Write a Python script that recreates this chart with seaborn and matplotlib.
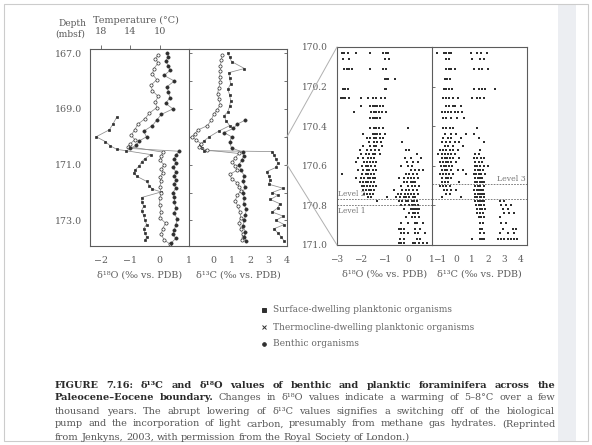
import pandas as pd
import matplotlib
matplotlib.use("Agg")
import matplotlib.pyplot as plt
import seaborn as sns
from matplotlib.patches import ConnectionPatch, Rectangle
from matplotlib.lines import Line2D

# ---------------- data ----------------
# left panel, delta18O profiles (depth in mbsf, value in permil)
o18_surf_depth = [169.30, 169.55, 169.75, 170.00, 170.17, 170.32, 170.45, 170.50,
                  170.64, 170.78, 170.90, 171.05, 171.20, 171.30, 171.42, 171.60,
                  171.75, 171.88, 171.98, 172.18, 172.35, 172.50, 172.65, 172.82,
                  173.00, 173.15, 173.30, 173.45, 173.60, 173.72]
o18_surf = [-1.47, -1.60, -1.72, -2.17, -1.86, -1.69, -1.47, -1.15,
            -0.30, -0.50, -0.62, -0.70, -0.85, -0.88, -0.78, -0.45,
            -0.35, -0.25, 0.05, -0.62, -0.60, -0.55, -0.62, -0.55,
            -0.50, -0.45, -0.55, -0.50, -0.45, -0.50]

o18_thermo_depth = [167.05, 167.20, 167.35, 167.55, 167.75, 167.95, 168.15, 168.35,
                    168.55, 168.75, 168.95, 169.15, 169.35, 169.55, 169.75, 169.95,
                    170.10, 170.25, 170.35, 170.55, 170.70, 170.85, 171.00, 171.15,
                    171.30, 171.45, 171.60, 171.80, 172.00, 172.20, 172.45, 172.70,
                    172.90, 173.10, 173.30, 173.50, 173.70, 173.85]
o18_thermo = [-0.05, -0.15, -0.05, -0.20, -0.25, -0.10, -0.30, -0.25,
              -0.05, -0.15, -0.10, -0.35, -0.50, -0.75, -0.85, -0.98,
              -0.85, -1.00, -1.08, 0.10, 0.05, 0.00, 0.15, 0.05,
              0.10, 0.00, 0.05, 0.00, 0.05, 0.00, 0.00, 0.05,
              0.00, 0.20, 0.10, 0.05, 0.15, 0.35]

o18_benth_depth = [166.98, 167.12, 167.28, 167.45, 167.62, 167.80, 168.00, 168.20,
                   168.40, 168.60, 168.80, 169.00, 169.20, 169.40, 169.60, 169.80,
                   170.00, 170.15, 170.30, 170.42, 170.52, 170.65, 170.80, 170.95,
                   171.10, 171.25, 171.40, 171.55, 171.70, 171.85, 172.00, 172.15,
                   172.35, 172.55, 172.75, 172.95, 173.15, 173.35, 173.50, 173.65,
                   173.80]
o18_benth = [0.25, 0.30, 0.20, 0.30, 0.35, 0.15, 0.50, 0.25,
             0.30, 0.35, 0.20, 0.45, 0.05, -0.10, -0.25, -0.55,
             -0.45, -0.70, -0.80, -1.00, 0.67, 0.55, 0.50, 0.55,
             0.45, 0.55, 0.50, 0.55, 0.50, 0.55, 0.45, 0.50,
             0.50, 0.55, 0.50, 0.60, 0.55, 0.50, 0.45, 0.55,
             0.40]

# left panel, delta13C profiles
c13_surf_depth = [166.98, 167.15, 167.30, 167.55, 167.70, 167.90, 168.10, 168.30,
                  168.50, 168.70, 168.90, 169.10, 169.25, 169.42, 169.60, 169.80,
                  170.00, 170.15, 170.30, 170.42, 170.50, 170.53, 170.65, 170.80,
                  170.95, 171.10, 171.25, 171.40, 171.55, 171.70, 171.85, 172.00,
                  172.10, 172.25, 172.40, 172.55, 172.70, 172.85, 173.00, 173.15,
                  173.30, 173.45, 173.60, 173.75]
c13_surf = [0.80, 0.90, 1.00, 1.70, 0.85, 0.90, 0.95, 0.80,
            0.90, 0.95, 0.90, 0.80, 0.60, 0.70, 0.90, 0.30,
            -0.20, -0.50, -0.70, -0.60, -0.50, 3.20, 3.30, 3.40,
            3.50, 3.40, 2.90, 3.00, 3.10, 3.00, 3.80, 3.20,
            3.50, 3.10, 3.60, 3.50, 3.20, 3.80, 3.40, 3.85,
            3.30, 3.50, 3.70, 3.85]

c13_thermo_depth = [167.05, 167.25, 167.45, 167.65, 167.85, 168.05, 168.25, 168.45,
                    168.65, 168.85, 169.05, 169.20, 169.40, 169.60, 169.75, 169.90,
                    170.00, 170.12, 170.25, 170.38, 170.48, 170.60, 170.75, 170.90,
                    171.05, 171.20, 171.35, 171.50, 171.65, 171.80, 171.95, 172.10,
                    172.30, 172.50, 172.70, 172.90, 173.10, 173.30, 173.50, 173.70]
c13_thermo = [0.50, 0.45, 0.40, 0.40, 0.35, 0.40, 0.30, 0.25,
              0.30, 0.40, 0.20, 0.03, -0.10, -0.30, -0.80, -1.00,
              -1.13, -0.90, -0.65, -0.75, -0.30, 1.40, 1.20, 1.05,
              1.20, 1.30, 0.90, 1.00, 1.30, 1.40, 1.50, 1.30,
              1.20, 1.35, 1.45, 1.50, 1.40, 1.50, 1.60, 1.55]

c13_benth_depth = [169.40, 169.55, 169.70, 169.85, 170.00, 170.20, 170.40, 170.55,
                   170.70, 170.85, 171.00, 171.20, 171.40, 171.60, 171.80, 172.00,
                   172.20, 172.40, 172.60, 172.80, 173.00, 173.20, 173.40, 173.60,
                   173.75]
c13_benth = [1.75, 1.30, 1.10, 0.60, 1.00, 0.90, 1.00, 1.60,
             1.65, 1.55, 1.40, 1.50, 1.70, 1.60, 1.75, 1.60,
             1.70, 1.65, 1.80, 1.75, 1.70, 1.60, 1.75, 1.70,
             1.80]

# right panel (high-resolution interval), samples grouped by depth
hr_depth = [170.03, 170.06, 170.11, 170.16, 170.21, 170.26, 170.30, 170.33,
            170.36, 170.41, 170.44, 170.46, 170.48, 170.50, 170.52, 170.54,
            170.56, 170.58, 170.60, 170.62, 170.64, 170.66, 170.68, 170.70,
            170.72, 170.74, 170.76, 170.78, 170.80, 170.82, 170.84, 170.86,
            170.89, 170.92, 170.94, 170.97, 170.99]
hr_o18 = [
    [-2.8, -2.7, -2.55, -2.2, -1.6, -1.05, -0.95, -0.85],
    [-2.75, -2.5, -1.0, -0.8],
    [-2.7, -2.6, -2.5, -2.35, -1.6, -1.05, -0.95],
    [-1.0, -0.9, -0.85, -0.55],
    [-2.75, -2.65, -2.55, -1.0, -0.95],
    [-2.85, -2.75, -2.65, -2.5, -2.0, -1.7, -1.5, -1.35, -1.15, -1.0],
    [-2.0, -1.6, -1.5, -1.4, -1.3, -1.2, -1.05],
    [-2.3, -1.55, -1.45, -1.35, -1.25, -1.1, -0.95],
    [-1.6, -1.5, -1.4, -1.3, -1.2],
    [-1.6, -1.45, -1.35, -1.25, -1.05, 0.0],
    [-1.9, -1.5, -1.4, -1.3, -1.2, -1.0],
    [-1.75, -1.6, -1.45, -1.35, -1.2, -1.05],
    [-1.65, -1.45, -1.3, -1.15, -0.25],
    [-1.9, -1.6, -1.45, -1.35, -1.1],
    [-2.05, -1.75, -1.55, -1.4, -1.25, -0.1, 0.05],
    [-2.0, -1.8, -1.65, -1.5, -1.4, -1.2, 0.35],
    [-2.1, -1.9, -1.7, -1.55, -1.45, -0.15, 0.1, 0.55],
    [-2.2, -1.85, -1.75, -1.6, -1.5, -1.35, -0.05, 0.2, 0.4],
    [-1.95, -1.8, -1.7, -1.55, -1.4, -0.3, 0.0, 0.15],
    [-2.1, -1.9, -1.75, -1.65, -1.5, -1.35, 0.1, 0.3, 0.45, 0.6],
    [-2.8, -1.95, -1.8, -1.7, -1.55, -1.45, -0.1, 0.05, 0.2, 0.35],
    [-2.2, -2.0, -1.85, -1.7, -1.6, -1.5, -1.4, -0.4, -0.2, 0.0, 0.1, 0.25, 0.4],
    [-2.05, -1.9, -1.8, -1.7, -1.55, -1.45, -0.2, -0.05, 0.1, 0.2, 0.3],
    [-1.95, -1.85, -1.75, -1.6, -1.5, -1.35, -0.3, 0.0, 0.15, 0.3, 0.45],
    [-1.9, -1.8, -1.65, -1.55, -1.45, -0.6, -0.25, -0.1, 0.05, 0.2, 0.35],
    [-1.85, -1.75, -1.6, -1.5, -0.45, -0.3, -0.15, 0.0, 0.1, 0.25, 0.4],
    [-1.7, -1.55, -0.9, -0.5, -0.35, -0.2, -0.1, 0.05, 0.2, 0.3],
    [-1.3, -0.4, -0.25, -0.1, 0.0, 0.15, 0.25, 0.35],
    [-0.3, -0.15, 0.05, 0.15, 0.25, 0.3, 0.4],
    [-0.2, 0.1, 0.2, 0.3, 0.35, 0.45],
    [0.05, 0.2, 0.3, 0.4],
    [-0.1, 0.15, 0.3, 0.45],
    [-0.3, 0.0, 0.3, 0.35, 0.6],
    [-0.4, -0.3, -0.2, 0.3, 0.5],
    [-0.3, -0.2, 0.0, 0.3, 0.4, 0.7],
    [-0.35, -0.2, 0.35, 0.5],
    [-0.4, -0.3, -0.2, 0.2, 0.3, 0.45, 0.6, 0.8],
]
hr_c13 = [
    [-1.2, -0.75, -0.6, -0.45, -0.3, 0.95, 1.3, 1.55, 1.9],
    [-0.6, -0.45, 1.0, 1.5, 1.75],
    [-0.6, -0.45, -0.3, -0.1, 1.1, 1.4, 1.6, 1.95],
    [-0.7, -0.55, -0.4],
    [-0.75, -0.6, -0.45, -0.25, 1.1, 1.4, 1.6, 1.8, 2.4],
    [-0.8, -0.6, -0.45, -0.2, 0.1, 1.0, 1.3, 1.5, 1.7],
    [-0.6, -0.45, -0.2, -0.05, 0.3],
    [-0.9, -0.7, -0.5, -0.3, -0.1, 0.1, 0.35],
    [-0.8, -0.6, -0.3, 0.05, 0.5],
    [-0.8, -0.6, -0.4, -0.2, 1.3],
    [-0.7, -0.35, 0.0, 0.6, 1.1],
    [-0.8, -0.5, -0.3, 0.3, 1.4],
    [-0.9, -0.6, -0.4, -0.1, 0.2, 1.7],
    [-0.7, -0.5, -0.2, 0.4],
    [-1.0, -0.8, -0.6, -0.4, -0.2, 0.1, 1.5],
    [-1.1, -0.9, -0.7, -0.5, -0.3, -0.1, 1.2, 1.4],
    [-0.9, -0.7, -0.55, -0.4, -0.2, 0.2, 1.1, 1.3, 1.55, 1.75],
    [-1.0, -0.8, -0.65, -0.5, -0.3, 0.0, 1.2, 1.4, 1.6],
    [-0.95, -0.75, -0.6, -0.45, -0.25, 1.15, 1.3, 1.5, 1.7, 2.0],
    [-0.9, -0.7, -0.55, -0.35, 0.1, 0.4, 1.2, 1.35, 1.5, 1.65],
    [-1.0, -0.8, -0.6, -0.45, -0.2, 0.6, 1.1, 1.25, 1.4, 1.55, 1.8],
    [-0.85, -0.65, -0.5, -0.3, 1.2, 1.35, 1.5, 1.6],
    [-0.9, -0.7, -0.5, 0.2, 1.15, 1.3, 1.45, 1.6, 1.75],
    [-1.0, -0.8, -0.6, -0.4, 1.2, 1.35, 1.5, 1.7],
    [-0.75, -0.55, -0.3, 0.0, 1.1, 1.3, 1.4, 1.55, 1.65],
    [-0.6, -0.4, 1.2, 1.35, 1.5, 1.6, 1.75],
    [-0.9, 0.3, 1.15, 1.3, 1.45, 1.55, 1.7],
    [1.2, 1.35, 1.5, 1.6, 1.75, 2.7, 3.0],
    [1.25, 1.4, 1.55, 1.7, 2.8, 3.1, 3.4],
    [1.3, 1.45, 1.6, 1.8, 2.9, 3.2],
    [1.3, 1.5, 1.65, 3.0, 3.3, 3.6],
    [1.4, 1.55, 1.7, 2.75],
    [1.5, 1.65, 2.8, 3.1],
    [1.45, 1.6, 2.9, 3.5, 3.7],
    [1.5, 1.7, 2.7, 3.2, 3.6],
    [1.0, 1.45, 1.6, 1.75, 2.6, 2.8, 3.0, 3.2, 3.4, 3.6, 3.8],
]

level_o18 = [170.77, 170.80]
level_c13 = [170.69, 170.77]

temp_ticks = [-2, -1, 0]
temp_labels = ["18", "14", "10"]

legend_labels = ["Surface-dwelling planktonic organisms",
                 "Thermocline-dwelling planktonic organisms",
                 "Benthic organisms"]

# ---------------- style ----------------
sns.set_theme(style="white")
plt.rcParams['font.family'] = ['DejaVu Serif']
plt.rcParams['axes.unicode_minus'] = True

INK = "#5c5c5c"
DOT = "#2f2f2f"
W, H = 592, 445
fig = plt.figure(figsize=(W / 100, H / 100), dpi=100)
fig.patch.set_facecolor("white")

# scanned page: light edge strip on the right and a thin frame
fig.add_artist(Rectangle((558 / W, 4 / H), 18 / W, 437 / H, transform=fig.transFigure,
                         facecolor="#eceef2", edgecolor="none", zorder=0))
fig.add_artist(Rectangle((4 / W, 4 / H), 584 / W, 437 / H, transform=fig.transFigure,
                         facecolor="none", edgecolor="#cccccc", lw=0.8, zorder=0))


def px_axes(l, t, r, b):
    return fig.add_axes([l / W, 1 - b / H, (r - l) / W, (b - t) / H])


def style(ax, size=6.8):
    for s in ax.spines.values():
        s.set_color(INK)
        s.set_linewidth(0.8)
    ax.tick_params(colors=INK, labelcolor=INK, labelsize=size, width=0.6, length=3, pad=4)
    ax.set_facecolor("white")


def profile(ax, depth, vals, marker, mfc, ms=2.3):
    df = pd.DataFrame({"v": vals, "d": depth})
    sns.lineplot(data=df, x="v", y="d", orient="y", sort=False, estimator=None, ax=ax,
                 color="#8c8c8c", lw=0.55, marker=marker, markersize=ms,
                 markerfacecolor=mfc, markeredgecolor=DOT, markeredgewidth=0.5)


def flat(depths, rows):
    d, v = [], []
    for dep, row in zip(depths, rows):
        d += [dep] * len(row)
        v += row
    return pd.DataFrame({"d": d, "v": v})


LABEL = dict(fontsize=6.9, color=INK, labelpad=4)

# ---------------- left panel: full record ----------------
ax1 = px_axes(90, 49, 189, 246)
ax2 = px_axes(189, 49, 287, 246)
for ax in (ax1, ax2):
    style(ax)
    ax.set_ylim(173.92, 166.85)

profile(ax1, o18_surf_depth, o18_surf, "s", DOT, 2.0)
profile(ax1, o18_thermo_depth, o18_thermo, "o", "white")
profile(ax1, o18_benth_depth, o18_benth, "o", DOT)
ax1.set_xlim(-2.38, 1.0)
ax1.set_xticks([-2, -1, 0, 1])
ax1.set_xticklabels(["\u22122", "\u22121", "0", "1"])
ax1.set_yticks([167, 169, 171, 173])
ax1.set_yticklabels(["167.0", "169.0", "171.0", "173.0"])
ax1.set_yticks([168, 170, 172], minor=True)
ax1.tick_params(axis="y", which="major", pad=2.5)
ax1.tick_params(axis="y", which="minor", length=1.5, width=0.5, color=INK)
ax1.spines["right"].set_visible(False)
ax1.set_xlabel("\u03b4\u00b9\u2078O (\u2030 vs. PDB)", **LABEL)
ax1.set_ylabel("")
top = ax1.secondary_xaxis("top")
top.set_xticks(temp_ticks)
top.set_xticklabels(temp_labels)
top.tick_params(colors=INK, labelcolor=INK, labelsize=6.9, width=0.6, length=3, pad=6)
top.spines["top"].set_visible(False)

profile(ax2, c13_surf_depth, c13_surf, "s", DOT, 2.0)
profile(ax2, c13_thermo_depth, c13_thermo, "o", "white")
profile(ax2, c13_benth_depth, c13_benth, "o", DOT)
ax2.set_xlim(-1.3, 4.0)
ax2.set_xticks([-1, 0, 1, 2, 3, 4])
ax2.set_xticklabels(["", "0", "1", "2", "3", "4"])
ax2.set_yticks(range(167, 174))
ax2.tick_params(axis="y", left=True, right=True, direction="in", labelleft=False, length=2)
ax2.set_xlabel("\u03b4\u00b9\u00b3C (\u2030 vs. PDB)", **LABEL)
ax2.set_ylabel("")

fig.text(58 / W, 1 - 23 / H, "Depth", fontsize=6.6, color=INK, va="center")
fig.text(55 / W, 1 - 34 / H, "(mbsf)", fontsize=6.6, color=INK, va="center")
fig.text(93 / W, 1 - 20 / H, "Temperature (\u00b0C)", fontsize=6.9, color=INK, va="center")

# ---------------- right panel: expanded interval ----------------
ax3 = px_axes(337, 47, 432, 245)
ax4 = px_axes(432, 47, 527, 245)
for ax in (ax3, ax4):
    style(ax, 6.5)
    ax.set_ylim(171.0, 170.0)

sns.scatterplot(data=flat(hr_depth, hr_o18), x="v", y="d", ax=ax3, s=3.0,
                color=DOT, marker="s", linewidth=0)
ax3.set_xlim(-3.0, 1.0)
ax3.set_xticks([-3, -2, -1, 0, 1])
ax3.set_xticklabels(["\u22123", "\u22122", "\u22121", "0", "1"])
ax3.set_yticks([170.0, 170.2, 170.4, 170.6, 170.8, 171.0])
ax3.set_yticklabels(["170.0", "170.2", "170.4", "170.6", "170.8", "171.0"])
ax3.tick_params(axis="y", length=5, pad=1.5)
ax3.spines["right"].set_visible(False)
ax3.set_xlabel("\u03b4\u00b9\u2078O (\u2030 vs. PDB)", **LABEL)
ax3.set_ylabel("")

sns.scatterplot(data=flat(hr_depth, hr_c13), x="v", y="d", ax=ax4, s=3.0,
                color=DOT, marker="s", linewidth=0)
ax4.set_xlim(-1.5, 4.4)
ax4.set_xticks([-1, 0, 1, 2, 3, 4])
ax4.set_xticklabels(["\u22121", "0", "1", "2", "3", "4"])
ax4.set_yticks([170.2, 170.4, 170.6, 170.8])
ax4.tick_params(axis="y", left=True, direction="in", labelleft=False, length=2)
ax4.set_xlabel("\u03b4\u00b9\u00b3C (\u2030 vs. PDB)", **LABEL)
ax4.set_ylabel("")

for lv in level_o18:
    ax3.axhline(lv, color="#6a6a6a", lw=0.6, ls=(0, (2, 1.5)))
for lv in level_c13:
    ax4.axhline(lv, color="#6a6a6a", lw=0.6, ls=(0, (2, 1.5)))
ax3.text(-2.95, level_o18[0] - 0.005, "Level 2", fontsize=5.4, color="#777", va="bottom")
ax3.text(-2.95, level_o18[1] + 0.008, "Level 1", fontsize=5.4, color="#777", va="top")
ax4.text(4.3, level_c13[0] - 0.005, "Level 3", fontsize=5.6, color="#777", va="bottom", ha="right")

# zoom connectors
for dep in (170.0, 171.0):
    con = ConnectionPatch(xyA=(1.0, dep), coordsA=ax2.get_yaxis_transform(),
                          xyB=(0.0, dep), coordsB=ax3.get_yaxis_transform(),
                          color="#b0b0b0", lw=0.7)
    fig.add_artist(con)

# ---------------- legend ----------------
leg_x, leg_y = 264, [310, 327, 344]
markers = [("s", DOT, 2.4), ("x", DOT, 2.8), ("o", DOT, 2.6)]
for (m, c, ms), lab, y in zip(markers, legend_labels, leg_y):
    fig.add_artist(Line2D([leg_x / W], [1 - y / H], marker=m, color=c, ms=ms, mew=0.7, ls="none"))
    fig.text((leg_x + 9) / W, 1 - y / H, lab, fontsize=6.5, color="#666", va="center")

# ---------------- caption (justified lines) ----------------
cap = [
    ([("FIGURE 7.16:  \u03b4\u00b9\u00b3C and \u03b4\u00b9\u2078O values of benthic and planktic "
       "foraminifera across the", "bold")], True),
    ([("Paleocene\u2013Eocene boundary.", "bold"),
      ("Changes in \u03b4\u00b9\u2078O values indicate a warming of 5\u20138\u00b0C over a few", "normal")], True),
    ([("thousand years. The abrupt lowering of \u03b4\u00b9\u00b3C values signifies a switching off "
       "of the biological", "normal")], True),
    ([("pump and the incorporation of light carbon, presumably from methane gas hydrates. "
       "(Reprinted", "normal")], True),
    ([("from Jenkyns, 2003, with permission from the Royal Society of London.)", "normal")], False),
]
X0, X1 = 55, 555
cap_y = [385, 398, 411, 424, 437]
renderer = fig.canvas.get_renderer()
for (segs, justify), y in zip(cap, cap_y):
    words = [(w, wt) for txt, wt in segs for w in txt.split()]
    size = 7.0
    while True:
        texts = []
        for w, wt in words:
            col = "#2a2a2a" if wt == "bold" else "#555555"
            texts.append(fig.text(0, 1 - y / H, w, fontsize=size, weight=wt, color=col, va="center"))
        widths = [t.get_window_extent(renderer).width for t in texts]
        gap = (X1 - X0 - sum(widths)) / (len(texts) - 1) if justify else 2.8
        if gap >= 2.5:
            break
        for t in texts:
            t.remove()
        size -= 0.1
    x = X0
    for t, w in zip(texts, widths):
        t.set_x(x / W)
        x += w + gap

fig.savefig("out.png", dpi=100, facecolor="white")
